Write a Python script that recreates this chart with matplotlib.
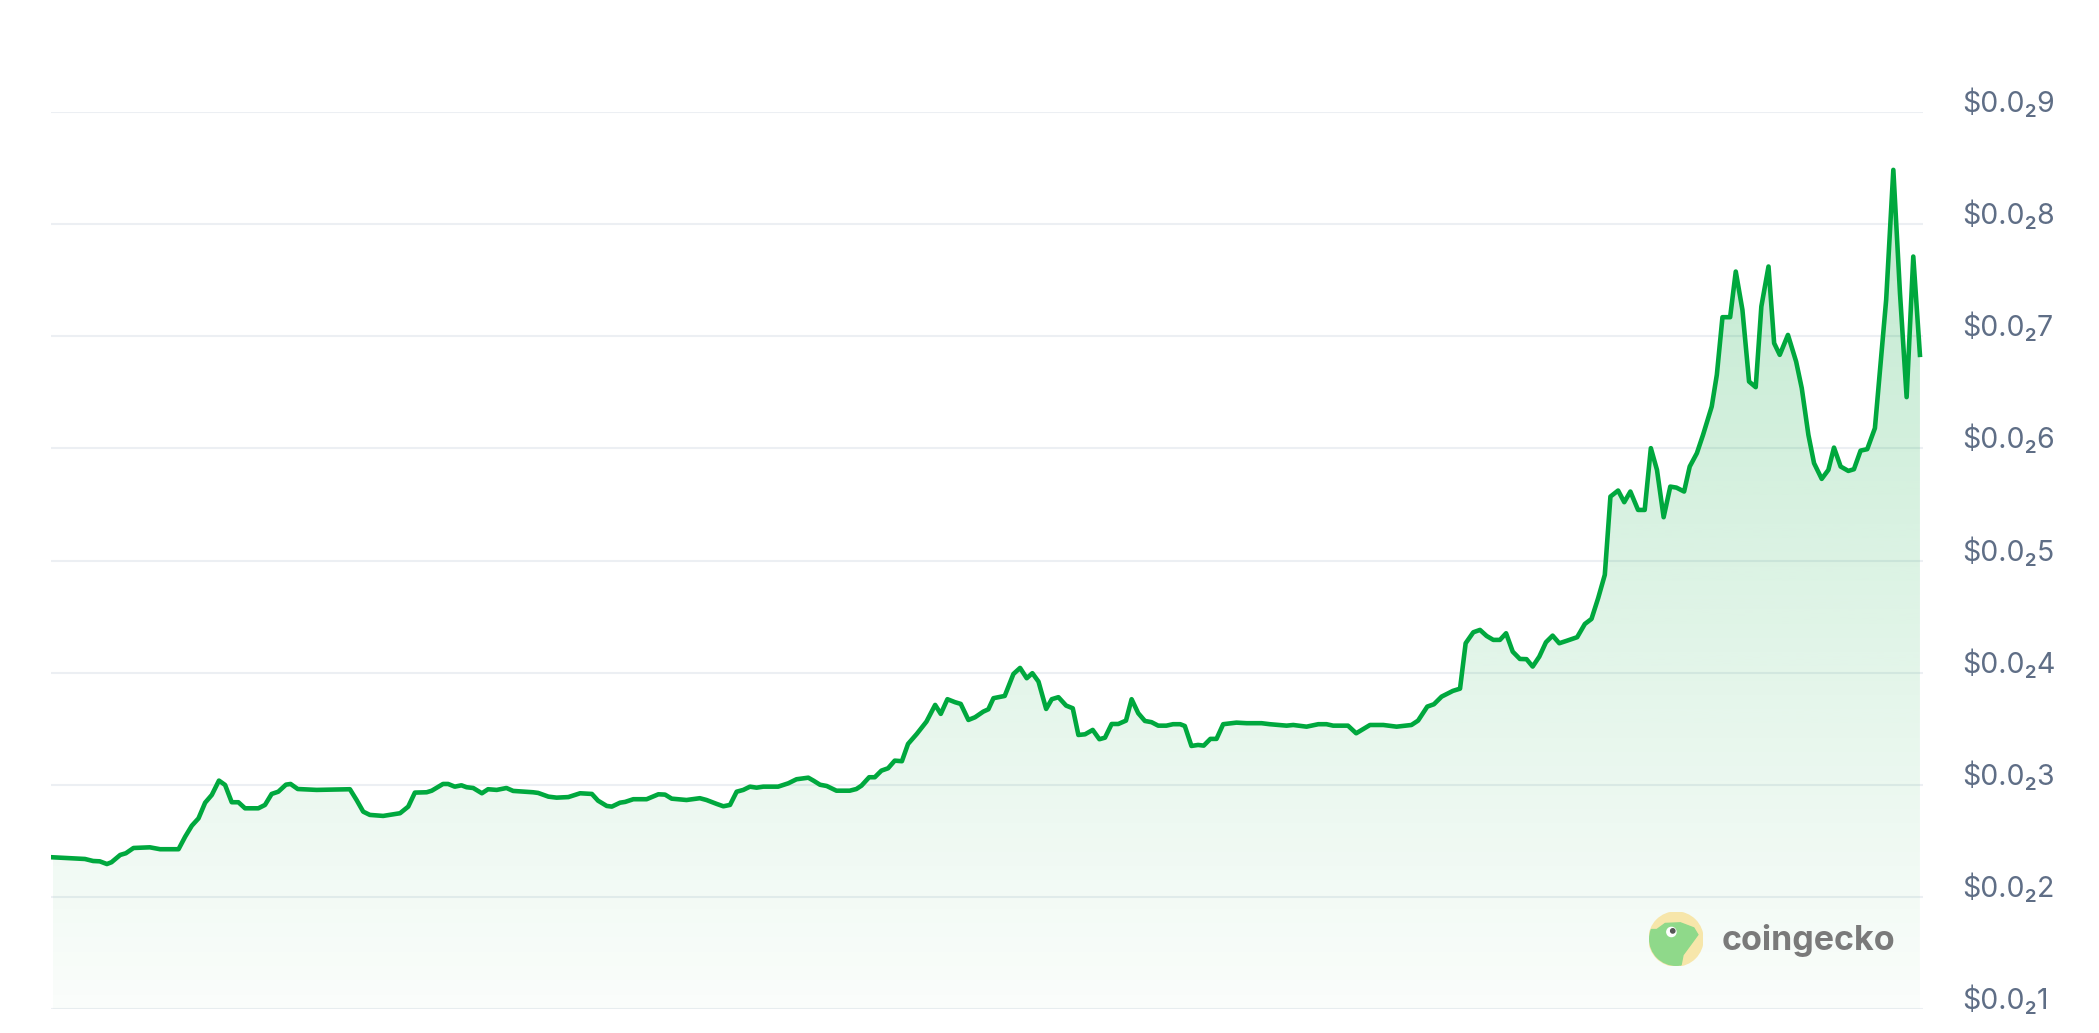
import matplotlib
matplotlib.use("Agg")
import matplotlib.pyplot as plt
import numpy as np
from matplotlib.patches import Circle, Polygon

# days since start of the window
days = [
    0, 6.3, 7.9, 9.2, 10.6, 11.5, 13.2, 14.3, 15.8, 19.0, 21.0, 24.6, 25.9, 27.2, 28.5, 29.8,
    31.1, 32.5, 33.7, 35.0, 36.3, 37.6, 40.2, 41.5, 42.8, 44.1, 45.6, 46.5, 47.9, 51.6, 58.1,
    59.4, 60.7, 62.0, 64.6, 67.9, 69.5, 70.8, 73.1, 74.1, 76.3, 77.3, 78.6, 79.9, 80.9, 82.2,
    83.9, 85.1, 86.8, 88.7, 90.0, 93.9, 94.9, 96.9, 98.5, 100.8, 103.1, 105.4, 106.6, 108.3,
    109.3, 110.9, 111.9, 113.5, 116.1, 118.4, 119.7, 121.0, 123.9, 126.5, 127.8, 129.8, 131.1,
    132.4, 133.7, 135.0, 136.3, 137.6, 138.9, 141.8, 143.8, 145.4, 147.7, 148.7, 150.0, 151.3,
    153.2, 155.8, 157.1, 158.1, 159.6, 160.7, 162.0, 163.3, 164.6, 166.0, 167.2, 168.9, 170.8,
    172.5, 173.6, 174.9, 176.4, 177.5, 179.0, 180.3, 181.9, 182.9, 183.9, 186.1, 187.8, 189.1,
    190.4, 191.5, 192.7, 194.2, 195.3, 196.6, 198.1, 199.4, 200.5, 201.8, 203.3, 204.6, 205.7,
    207.0, 208.3, 209.8, 210.9, 212.2, 213.5, 214.8, 216.1, 217.7, 219.0, 220.4, 221.3, 222.6,
    223.9, 225.0, 226.3, 227.5, 228.8, 231.4, 233.4, 236.3, 237.9, 241.2, 242.5, 245.1, 247.4,
    249.0, 250.3, 252.3, 253.2, 254.8, 257.5, 260.1, 262.7, 265.6, 266.9, 268.7, 270.0, 271.5,
    273.7, 275.1, 276.2, 277.7, 279.0, 280.3, 281.6, 282.9, 284.1, 285.4, 286.8, 288.1, 289.3,
    290.6, 291.9, 293.2, 294.5, 295.9, 298.0, 299.5, 300.8, 302.1, 303.4, 304.5, 306.0, 307.2,
    308.4, 309.9, 311.2, 312.4, 313.6, 314.9, 316.2, 317.4, 318.9, 320.0, 321.4, 322.6, 324.3,
    325.3, 326.4, 327.9, 329.0, 330.3, 331.6, 332.9, 334.0, 335.4, 336.5, 337.6, 339.2, 340.8,
    341.9, 343.2, 344.3, 345.8, 347.1, 348.2, 349.5, 351.0, 352.1, 353.4, 354.7, 356.2, 358.4,
    359.8, 361.1, 362.4, 363.7, 365.0,
]

# price in units of $0.001
price_milli = [
    2.353, 2.338, 2.320, 2.317, 2.293, 2.309, 2.374, 2.389, 2.436, 2.442, 2.425, 2.425, 2.537,
    2.635, 2.700, 2.840, 2.909, 3.037, 2.998, 2.844, 2.844, 2.790, 2.790, 2.820, 2.918, 2.938,
    3.001, 3.007, 2.962, 2.954, 2.960, 2.864, 2.760, 2.731, 2.722, 2.746, 2.805, 2.930, 2.933,
    2.947, 3.007, 3.007, 2.983, 2.995, 2.978, 2.971, 2.924, 2.960, 2.954, 2.971, 2.945, 2.933,
    2.927, 2.894, 2.885, 2.890, 2.924, 2.918, 2.858, 2.811, 2.805, 2.840, 2.847, 2.871, 2.871,
    2.915, 2.912, 2.876, 2.864, 2.880, 2.864, 2.829, 2.808, 2.820, 2.938, 2.954, 2.983, 2.974,
    2.983, 2.983, 3.013, 3.049, 3.063, 3.037, 3.000, 2.989, 2.947, 2.947, 2.962, 2.992, 3.067,
    3.067, 3.126, 3.147, 3.215, 3.210, 3.364, 3.453, 3.563, 3.712, 3.632, 3.763, 3.736, 3.721,
    3.578, 3.602, 3.652, 3.673, 3.772, 3.792, 3.988, 4.042, 3.950, 3.995, 3.920, 3.676, 3.763,
    3.781, 3.706, 3.682, 3.444, 3.450, 3.489, 3.406, 3.420, 3.542, 3.542, 3.572, 3.763, 3.638,
    3.569, 3.558, 3.527, 3.527, 3.540, 3.540, 3.524, 3.346, 3.355, 3.349, 3.409, 3.409, 3.540,
    3.554, 3.549, 3.549, 3.540, 3.527, 3.533, 3.518, 3.540, 3.540, 3.527, 3.527, 3.527, 3.459,
    3.533, 3.533, 3.518, 3.533, 3.572, 3.697, 3.718, 3.786, 3.837, 3.857, 4.262, 4.360, 4.381,
    4.327, 4.292, 4.292, 4.351, 4.187, 4.122, 4.120, 4.054, 4.143, 4.271, 4.330, 4.262, 4.283,
    4.316, 4.434, 4.479, 4.664, 4.872, 5.570, 5.624, 5.520, 5.615, 5.451, 5.451, 6.002, 5.808,
    5.386, 5.659, 5.650, 5.615, 5.838, 5.957, 6.120, 6.373, 6.656, 7.170, 7.170, 7.577, 7.236,
    6.596, 6.546, 7.265, 7.622, 6.938, 6.834, 7.012, 6.774, 6.537, 6.120, 5.868, 5.728, 5.808,
    6.007, 5.838, 5.799, 5.814, 5.980, 5.993, 6.180, 7.325, 8.484, 7.385, 6.457, 7.711, 6.834,
]

tick_values = [0.001, 0.002, 0.003, 0.004, 0.005, 0.006, 0.007, 0.008, 0.009]
tick_labels = ["$0.0₂1", "$0.0₂2", "$0.0₂3", "$0.0₂4", "$0.0₂5",
               "$0.0₂6", "$0.0₂7", "$0.0₂8", "$0.0₂9"]

LINE = "#00a83e"
GRID = "#eceff3"
LABEL = "#5f6e86"

x = np.array(days)
y = np.array(price_milli) * 1e-3

fig = plt.figure(figsize=(20.99, 10.33), dpi=100)
ax = fig.add_axes([51 / 2099, 24 / 1033, 1872 / 2099, 897 / 1033])
ax.axis("off")

for v, lab in zip(tick_values, tick_labels):
    ax.axhline(v, color=GRID, lw=1.5, zorder=0)
    ax.text(1.0208, v, lab, transform=ax.get_yaxis_transform(), ha="left", va="baseline",
            fontsize=20.5, color=LABEL, family=["Inter", "DejaVu Sans"])

# gradient fill under the line
ymin, ymax = 0.001, y.max()
poly = ax.fill_between(x, y, ymin, color="none", lw=0)
path = poly.get_paths()[0]
grad = np.zeros((256, 1, 4))
grad[:, 0, :3] = np.array([0, 168, 62]) / 255
grad[:, 0, 3] = np.linspace(0.25, 0.02, 256)
im = ax.imshow(grad, aspect="auto", extent=[x.min(), x.max(), ymin, ymax],
               origin="upper", zorder=1, interpolation="bilinear")
im.set_clip_path(path, transform=ax.transData)
ax.set_xlim(-0.33, 365.6)
ax.set_ylim(0.001, 0.009)

ax.plot(x, y, color=LINE, lw=3.3, solid_joinstyle="round", zorder=3)

# coingecko watermark
lax = fig.add_axes([1649 / 2099, 67 / 1033, 54 / 2099, 54 / 1033])
lax.set_xlim(-1, 1)
lax.set_ylim(-1, 1)
lax.set_aspect("equal")
lax.axis("off")
disc = Circle((0, 0), 1, color="#f7e6aa", zorder=1)
lax.add_patch(disc)
gecko = Polygon([(-0.71, 0.35), (-0.4, 0.575), (0.16, 0.6), (0.66, 0.41), (0.81, 0.16),
                 (0.54, -0.21), (0.26, -0.59), (0.16, -1.1), (-1.1, -1.1), (-1.1, 0.35)],
                closed=True, color="#8fd98a", zorder=2)
lax.add_patch(gecko)
gecko.set_clip_path(disc)
lax.add_patch(Circle((-0.17, 0.26), 0.17, color="white", zorder=3))
lax.add_patch(Circle((-0.12, 0.30), 0.08, color="#555555", zorder=4))
fig.text(1722 / 2099, (1033 - 950) / 1033, "coingecko", ha="left", va="baseline",
         fontsize=24.5, fontweight="bold", color="#7a7a7a", family=["Inter", "DejaVu Sans"])

fig.savefig("out.png", dpi=100, facecolor="white")
